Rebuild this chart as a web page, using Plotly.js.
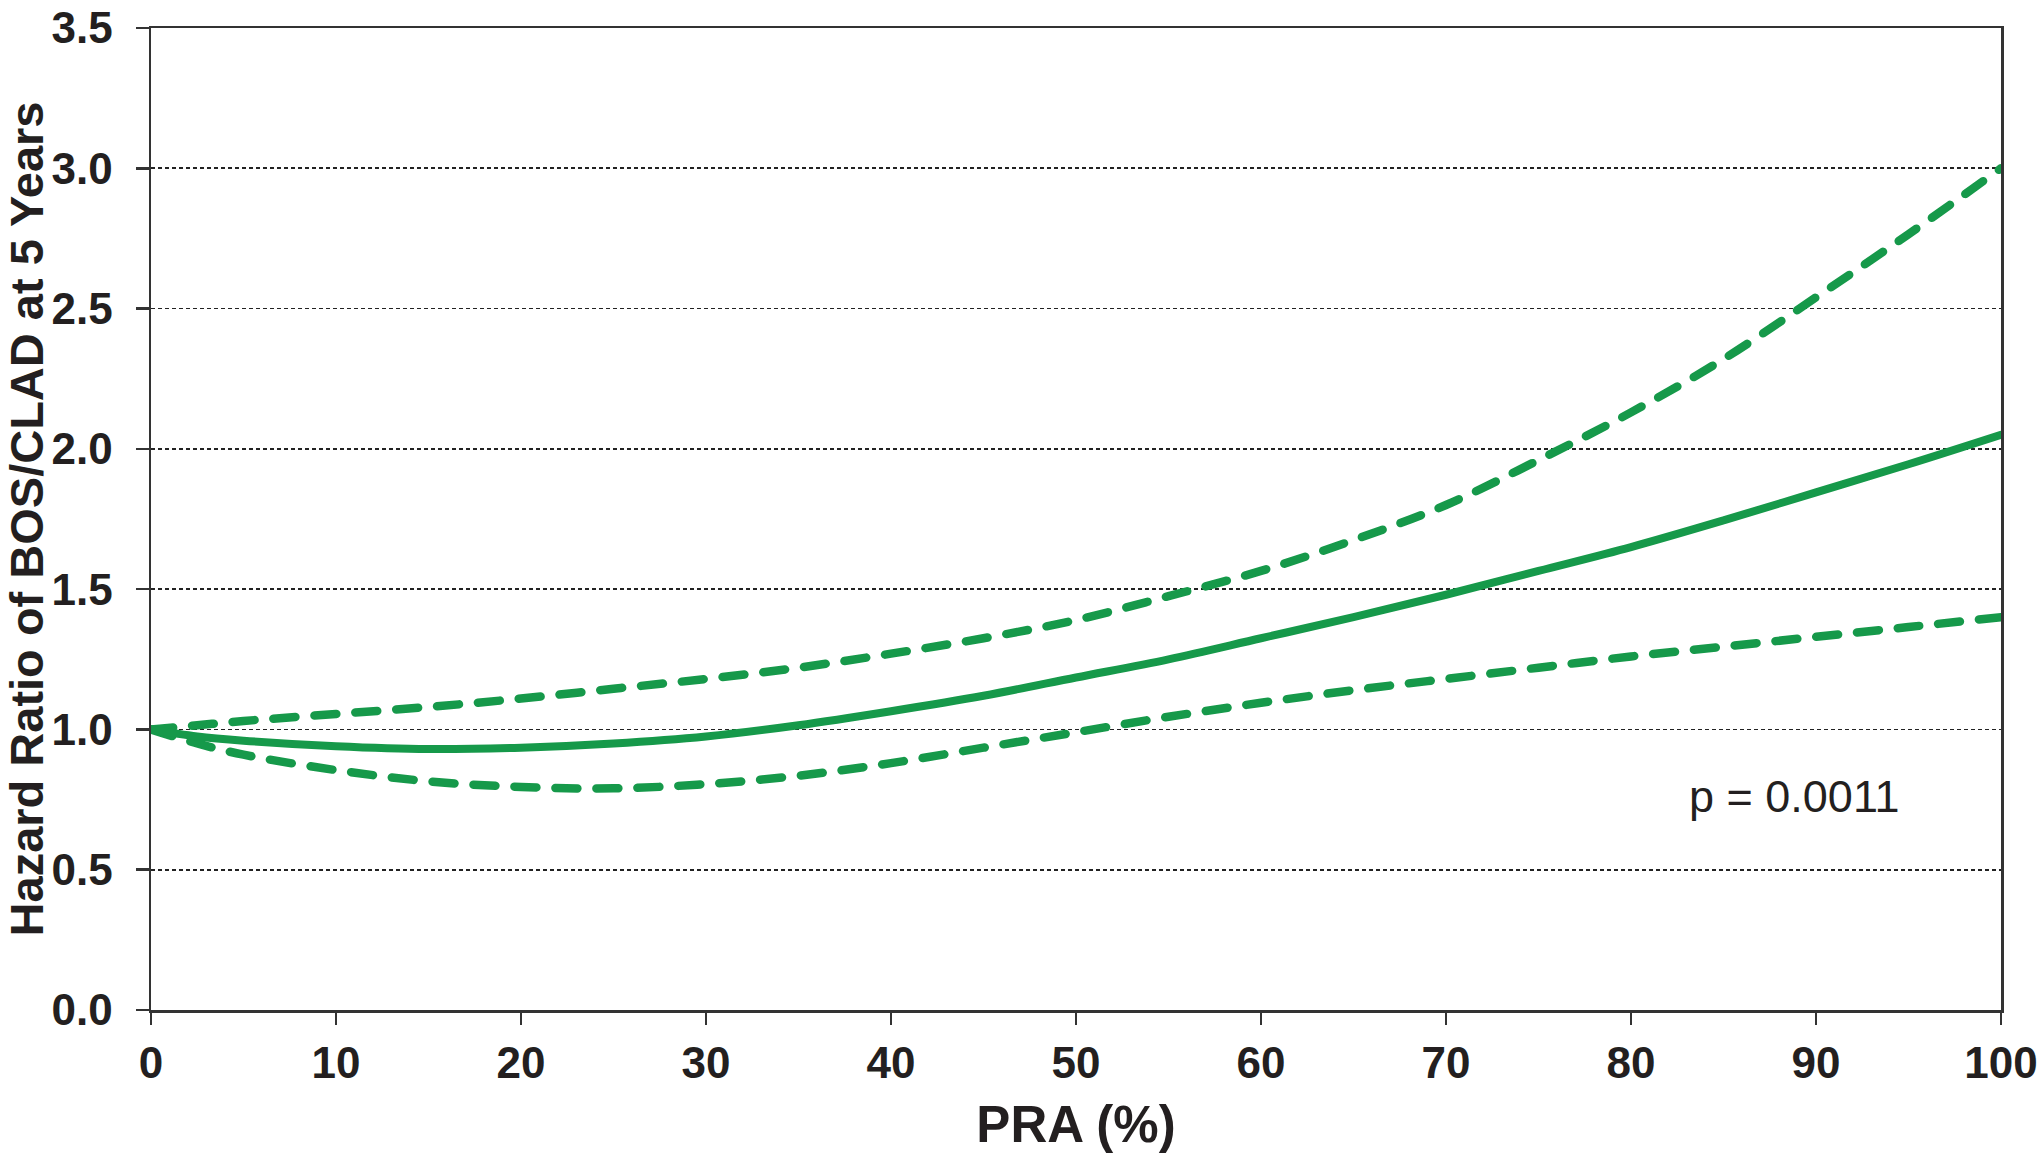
<!DOCTYPE html>
<html>
<head>
<meta charset="utf-8">
<script src="https://cdn.plot.ly/plotly-3.0.1.min.js"></script>
<style>
  html, body { margin: 0; padding: 0; background: #ffffff; }
  #chart { width: 2040px; height: 1163px; }
  .scatterlayer path.js-line { stroke-linecap: round; stroke-linejoin: round; }
</style>
</head>
<body>
<div id="chart"></div>
<script>
// PRA (%) values
const pra = [0, 2.5, 5, 10, 15, 20, 25, 30, 35, 40, 45, 50, 55, 60, 65, 70, 75, 80, 85, 90, 95, 100];
// Hazard ratio estimate
const hrEstimate = [1.00, 0.975, 0.96, 0.94, 0.93, 0.935, 0.95, 0.975, 1.015, 1.065, 1.12, 1.185, 1.25, 1.325, 1.40, 1.48, 1.565, 1.65, 1.745, 1.845, 1.945, 2.05];
// Upper 95% confidence limit
const hrUpper = [1.00, 1.015, 1.03, 1.055, 1.08, 1.11, 1.145, 1.18, 1.22, 1.27, 1.325, 1.39, 1.475, 1.565, 1.675, 1.80, 1.96, 2.13, 2.32, 2.54, 2.765, 3.00];
// Lower 95% confidence limit
const hrLower = [1.00, 0.95, 0.91, 0.855, 0.815, 0.795, 0.79, 0.805, 0.835, 0.88, 0.935, 0.99, 1.045, 1.095, 1.14, 1.18, 1.22, 1.26, 1.295, 1.33, 1.365, 1.40];

const xTicks = [0, 10, 20, 30, 40, 50, 60, 70, 80, 90, 100];
const yTicks = [0.0, 0.5, 1.0, 1.5, 2.0, 2.5, 3.0, 3.5];
const pLabel = "p = 0.0011";

const green = "#16994a";
const ink = "#231f20";
const fam = "Liberation Sans, Arial, sans-serif";

const traces = [
  { x: pra, y: hrUpper, mode: "lines", line: { color: green, width: 8.5, dash: "22px,19px", shape: "spline", smoothing: 1 }, hoverinfo: "skip" },
  { x: pra, y: hrLower, mode: "lines", line: { color: green, width: 8.5, dash: "22px,19px", shape: "spline", smoothing: 1 }, hoverinfo: "skip" },
  { x: pra, y: hrEstimate, mode: "lines", line: { color: green, width: 8, shape: "spline", smoothing: 1 }, hoverinfo: "skip" }
];

const layout = {
  width: 2040,
  height: 1163,
  margin: { l: 151, r: 39, t: 28, b: 153 },
  paper_bgcolor: "#ffffff",
  plot_bgcolor: "#ffffff",
  showlegend: false,
  font: { family: fam, color: ink },
  xaxis: {
    range: [0, 100],
    tickvals: xTicks,
    ticktext: xTicks.map(String),
    showgrid: false,
    zeroline: false,
    showline: true,
    linecolor: "#333333",
    linewidth: 2.5,
    mirror: true,
    ticks: "outside",
    ticklen: 12,
    tickwidth: 2.5,
    tickcolor: "#333333",
    ticklabelstandoff: 1,
    tickfont: { family: fam, size: 44, color: ink, weight: "bold" },
    title: { text: "PRA (%)", standoff: 20, font: { family: fam, size: 51, color: ink, weight: "bold" } }
  },
  yaxis: {
    range: [0, 3.5],
    tickvals: yTicks,
    ticktext: yTicks.map(v => v.toFixed(1)),
    showgrid: true,
    gridcolor: "#222222",
    gridwidth: 1.6,
    griddash: "4px,3px",
    zeroline: false,
    showline: true,
    linecolor: "#333333",
    linewidth: 2.5,
    mirror: true,
    ticks: "outside",
    ticklen: 13,
    tickwidth: 2.5,
    tickcolor: "#333333",
    ticklabelstandoff: 14,
    ticklabeloverflow: "allow",
    tickfont: { family: fam, size: 44, color: ink, weight: "bold" },
    title: { text: "Hazard Ratio of BOS/CLAD at 5 Years", standoff: 6, font: { family: fam, size: 47, color: ink, weight: "bold" } }
  },
  annotations: [
    { x: 83, y: 0.76, xref: "x", yref: "y", xanchor: "left", yanchor: "middle", showarrow: false, text: pLabel,
      font: { family: fam, size: 45, color: ink } }
  ]
};

Plotly.newPlot("chart", traces, layout, { staticPlot: true, displayModeBar: false });
</script>
</body>
</html>
